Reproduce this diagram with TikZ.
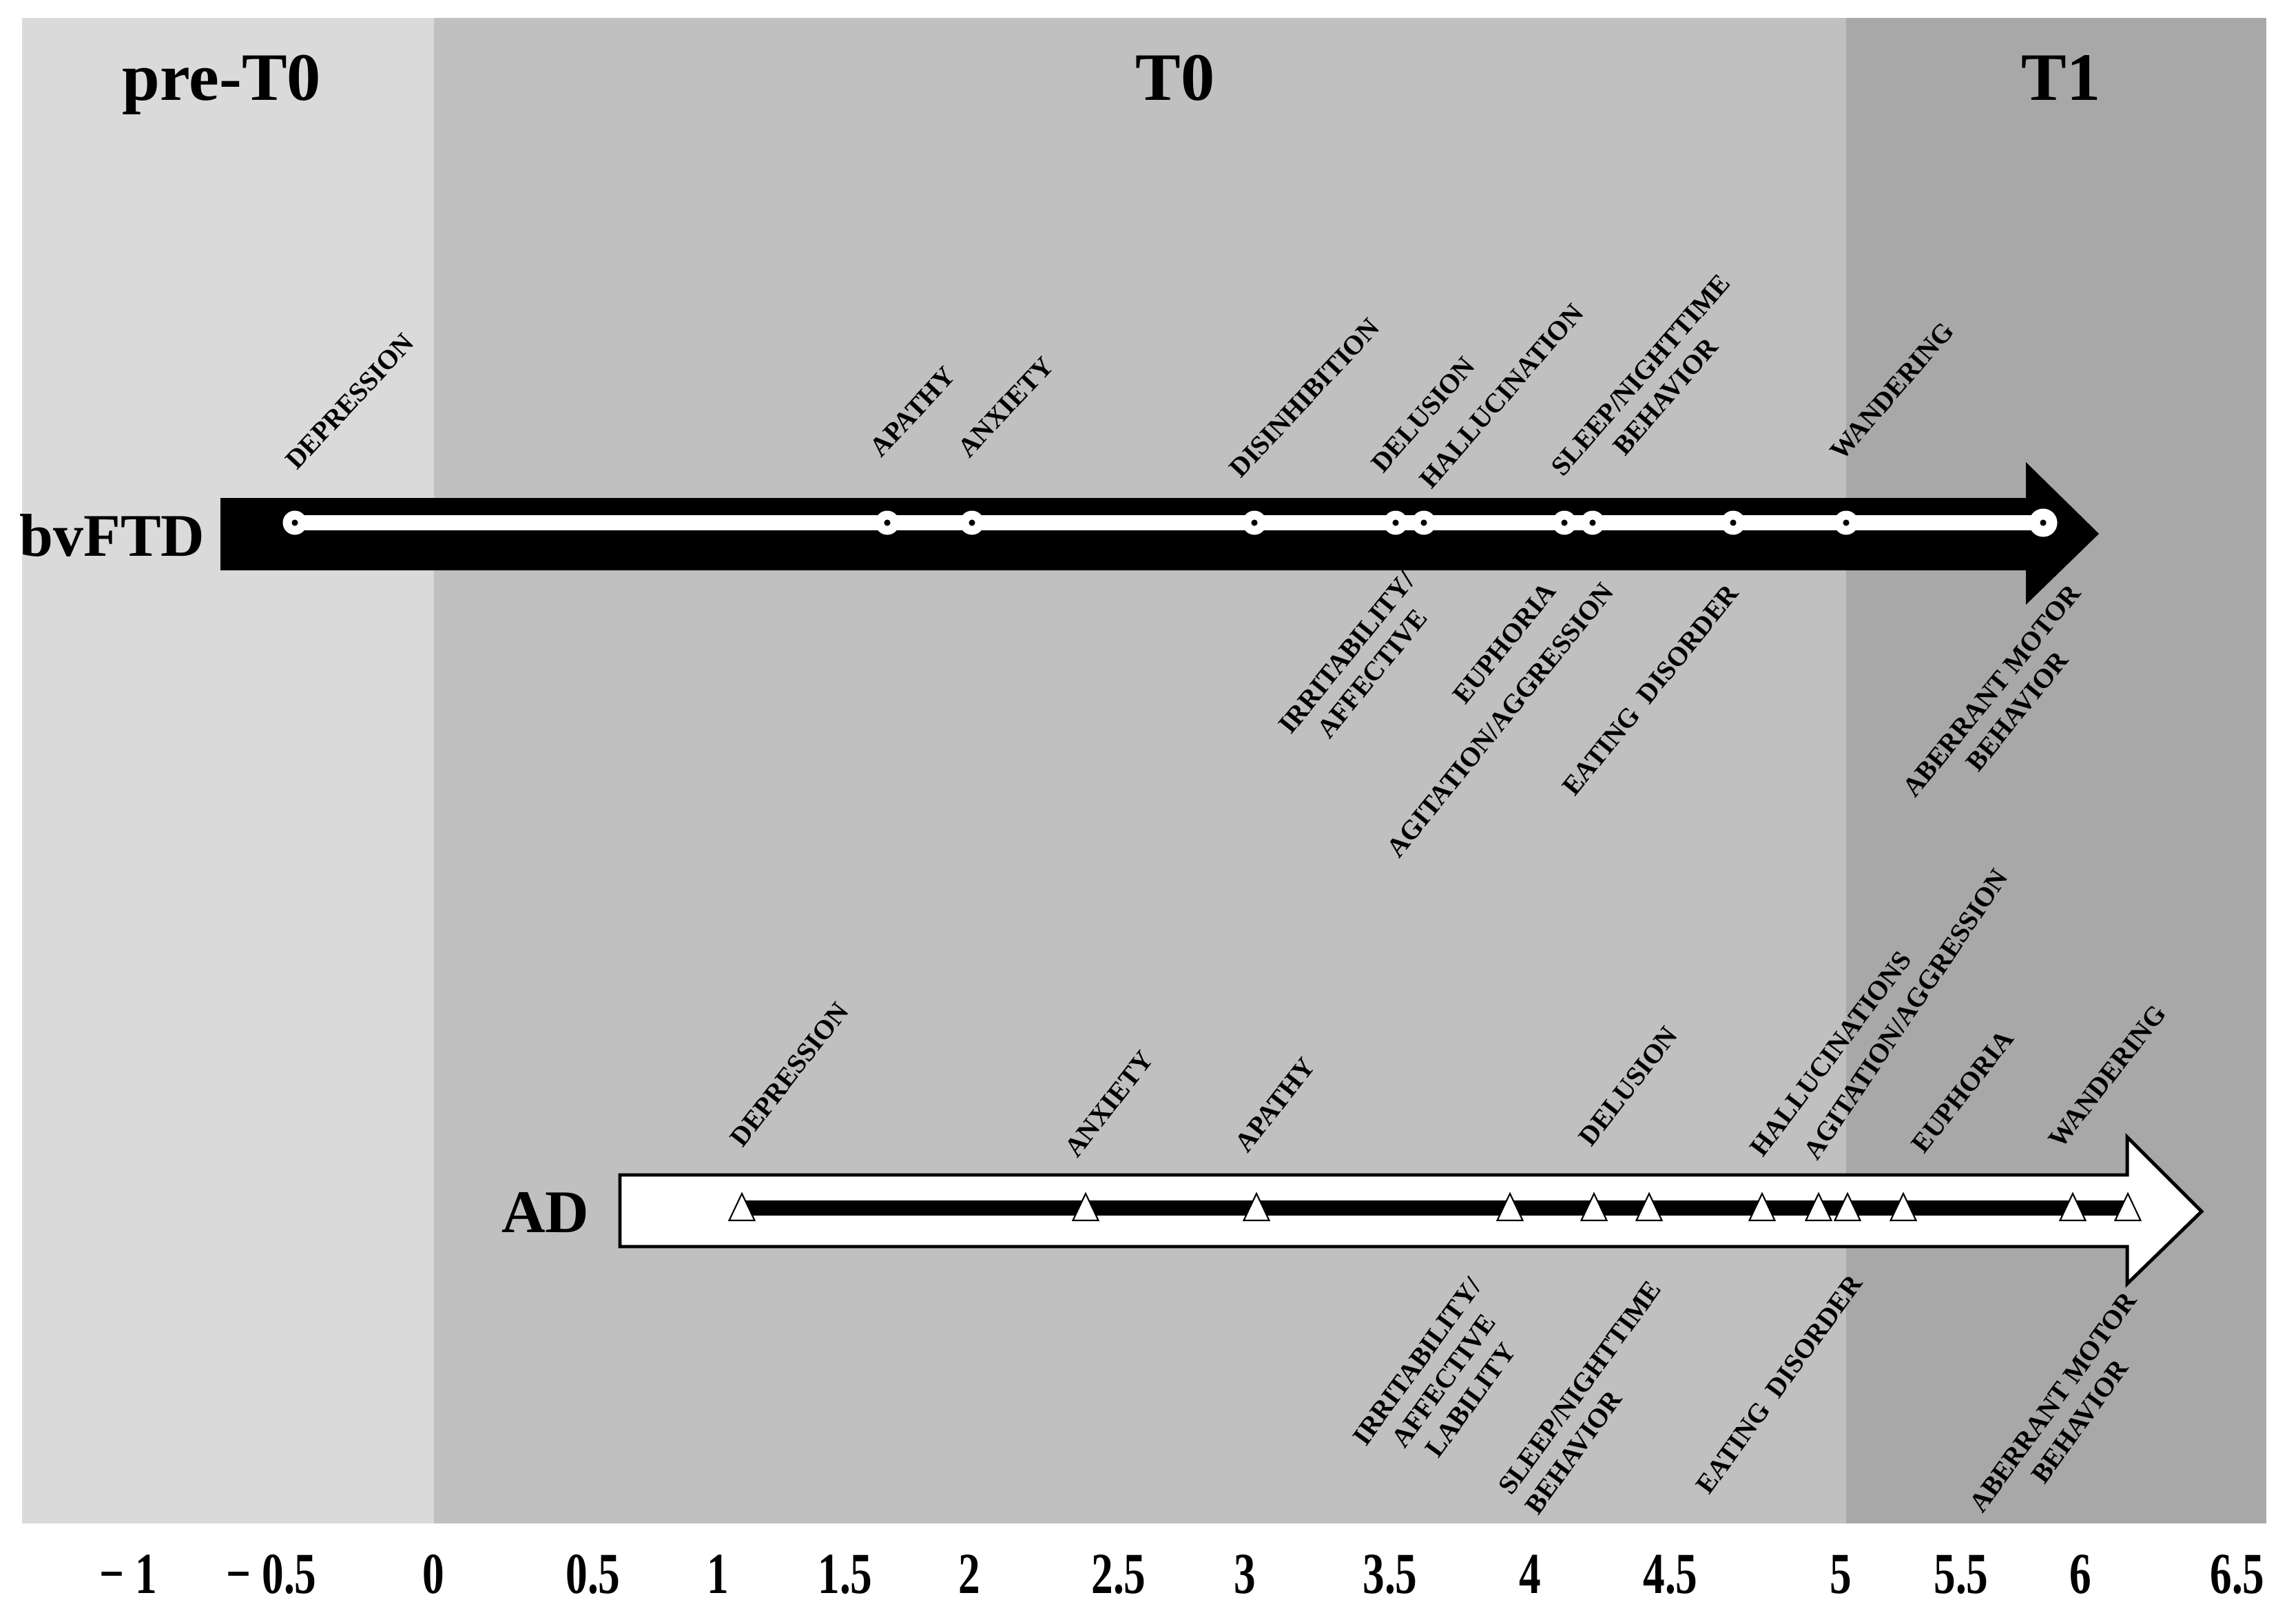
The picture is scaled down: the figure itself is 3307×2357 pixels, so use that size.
\documentclass[tikz,border=0pt]{standalone}
\usepackage{fontspec}
\setmainfont{Liberation Serif}
\definecolor{preTcol}{gray}{0.855}
\definecolor{tzerocol}{gray}{0.753}
\definecolor{tonecol}{gray}{0.66}
\begin{document}
\begin{tikzpicture}[x=0.01cm,y=-0.01cm,
  lbl/.style={font=\fontsize{11.2}{13.6}\selectfont\bfseries, inner sep=0pt, align=center},
  ttl/.style={font=\fontsize{28}{30}\selectfont\bfseries, inner sep=0pt},
  grp/.style={font=\fontsize{25}{28}\selectfont\bfseries, inner sep=0pt},
  axl/.style={font=\fontsize{24}{26}\selectfont\bfseries, inner sep=0pt, anchor=base},
  cmark/.style={circle, fill=white, inner sep=0pt, minimum size=0.35cm,
    path picture={\fill[black] (path picture bounding box.center) circle[radius=0.046cm];}},
  tri/.style={draw=black, fill=white, line width=0.6pt, line join=miter}]
\useasboundingbox (0,0) rectangle (3307,2357);
\fill[white] (0,0) rectangle (3307,2357);
% phases
\fill[preTcol] (32,26) rectangle (630,2212);
\fill[tzerocol] (630,26) rectangle (2680,2212);
\fill[tonecol] (2680,26) rectangle (3290,2212);
\node[ttl, anchor=base] (tpre) at (322,145) {pre-T0};
\node[ttl, anchor=base] (tzer) at (1706,145) {T0};
\node[ttl, anchor=base] (tone) at (2992,145) {T1};
% bvFTD arrow
\fill[black] (320,723) -- (2941,723) -- (2941,671) -- (3047,775) -- (2941,878) -- (2941,828) -- (320,828) -- cycle;
\node[grp, anchor=base] (bv) at (163,807) {bvFTD};
\foreach \n/\x in {1/428,2/1288,3/1411,4/1821,5/2026,6/2067,7/2271,8/2312,9/2516,10/2680,11/2966}
  \coordinate (b\n) at (\x,759);
\draw[white, line width=6.5pt] (b1) -- (b11);
\foreach \n in {1,...,10} \node[cmark] (bm\n) at (b\n) {};
\node[cmark, minimum size=0.41cm] (bm11) at (b11) {};
% AD arrow
\filldraw[fill=white, draw=black, line width=1.4pt] (900,1706) -- (3088,1706) -- (3088,1651) -- (3196,1759) -- (3088,1864) -- (3088,1810) -- (900,1810) -- cycle;
\node[grp, anchor=base] (ad) at (792,1789) {AD};
\foreach \n/\x in {1/1077,2/1576,3/1824,4/2192,5/2314,6/2394,7/2558,8/2640,9/2682,10/2763,11/3009,12/3089}
  \coordinate (a\n) at (\x,1754);
\draw[black, line width=6pt] (a1) -- (a12);
\foreach \n in {1,...,12}
  \draw[tri] (a\n) ++(-18.5,18) -- ++(18.5,-39) -- ++(18.5,39) -- cycle;
% bvFTD labels above
\node[lbl, rotate=47] (l1) at (508,583) {DEPRESSION};
\node[lbl, rotate=47] (l2) at (1325,598) {APATHY};
\node[lbl, rotate=47] (l3) at (1460,591) {ANXIETY};
\node[lbl, rotate=47] (l4) at (1894,578) {DISINHIBITION};
\node[lbl, rotate=49] (l5) at (2066,602) {DELUSION};
\node[lbl, rotate=49] (l6) at (2180,575) {HALLUCINATION};
\node[lbl, rotate=49] (l7) at (2400,560) {SLEEP/NIGHTTIME\\BEHAVIOR};
\node[lbl, rotate=49] (l8) at (2747,568) {WANDERING};
% bvFTD labels below
\node[lbl, rotate=51] (l9) at (1974,963) {IRRITABILITY/\\AFFECTIVE};
\node[lbl, rotate=51] (l10) at (2184,934) {EUPHORIA};
\node[lbl, rotate=51] (l11) at (2178,1046) {AGITATION/AGGRESSION};
\node[lbl, rotate=51] (l12) at (2396,1002) {EATING\ \ DISORDER};
\node[lbl, rotate=51] (l13) at (2910,1018) {ABERRANT MOTOR\\BEHAVIOR};
% AD labels above
\node[lbl, rotate=52] (m1) at (1146,1560) {DEPRESSION};
\node[lbl, rotate=52] (m2) at (1610,1603) {ANXIETY};
\node[lbl, rotate=52] (m3) at (1851,1604) {APATHY};
\node[lbl, rotate=52] (m4) at (2364,1577) {DELUSION};
\node[lbl, rotate=53] (m5) at (2658,1530) {HALLUCINATIONS};
\node[lbl, rotate=56] (m6) at (2767,1473) {AGITATION/AGGRESSION};
\node[lbl, rotate=52] (m7) at (2849,1585) {EUPHORIA};
\node[lbl, rotate=52] (m8) at (3059,1563) {WANDERING};
% AD labels below
\node[lbl, rotate=54] (m9) at (2096,2005) {IRRITABILITY/\\AFFECTIVE\\LABILITY};
\node[lbl, rotate=54, align=left] (m10) at (2313,2029) {SLEEP/NIGHTTIME\\BEHAVIOR};
\node[lbl, rotate=54] (m11) at (2583,2010) {EATING\ \ DISORDER};
\node[lbl, rotate=54] (m12) at (3000,2050) {ABERRANT MOTOR\\BEHAVIOR};
% axis
\foreach \n/\x/\t in {1/186/{− 1},2/394/{− 0.5},3/629/0,4/861/0.5,5/1042/1,6/1227/1.5,7/1407/2,8/1624/2.5,9/1807/3,10/2018/3.5,11/2221/4,12/2425/4.5,13/2672/5,14/2847/5.5,15/3020/6,16/3248/6.5}
  \node[axl] (ax\n) at (\x,2313) {\scalebox{0.75}[1]{\t}};
\end{tikzpicture}
\end{document}
